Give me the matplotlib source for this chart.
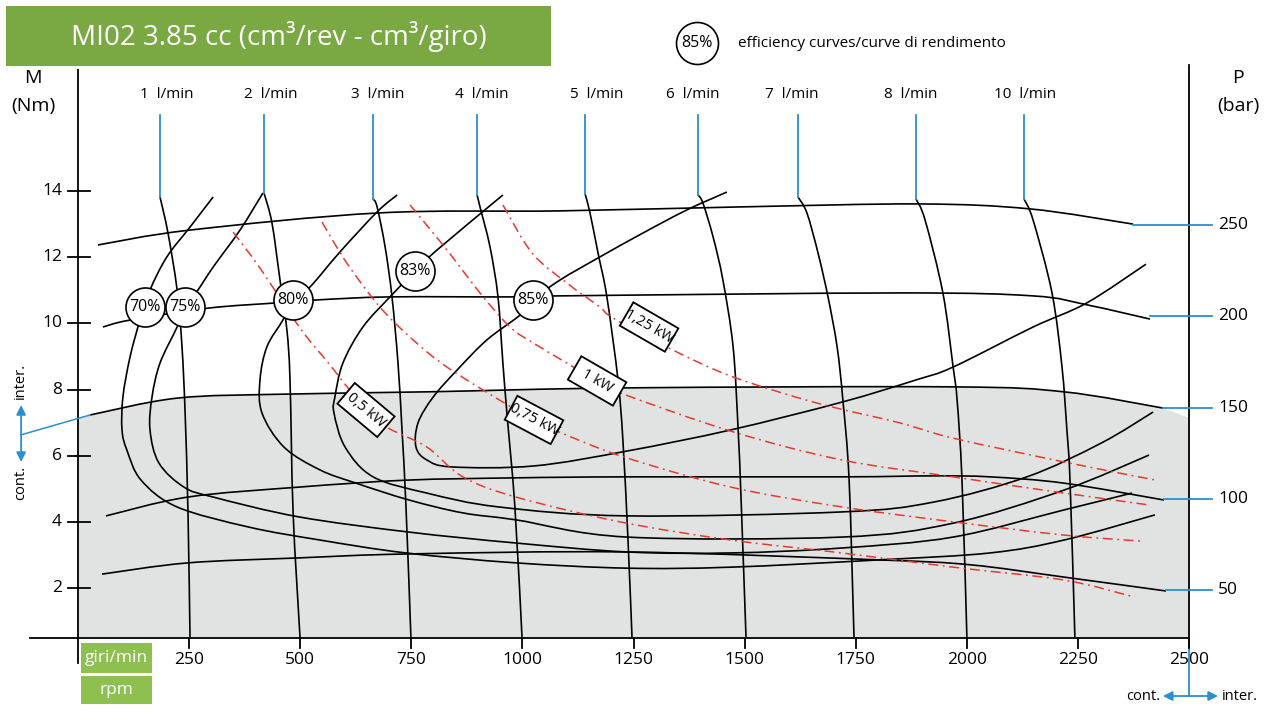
import matplotlib
matplotlib.use('Agg')
import matplotlib.pyplot as plt
import numpy as np
from matplotlib.patches import Rectangle, PathPatch
from matplotlib.path import Path
from matplotlib.transforms import Affine2D

plt.rcParams['font.family'] = ['Open Sans', 'DejaVu Sans']

# ---------------- data (x = rpm, y = torque Nm) ----------------
flow_labels = ['1', '2', '3', '4', '5', '6', '7', '8', '10']
flow_label_rpm = [200, 434, 675, 909, 1168, 1384, 1606, 1874, 2131]
flow_rpm = [
    [184.5, 202.5, 223, 234, 241, 247.5, 252],
    [418.5, 436.5, 454.5, 470, 477, 484, 499.5],
    [664, 673, 691, 706.5, 720, 729, 738, 749],
    [898, 904.5, 927, 945, 956, 965, 983, 999],
    [1141, 1152, 1170, 1190, 1215, 1226, 1237.5, 1246.5],
    [1395, 1406, 1429, 1451, 1474, 1485, 1492, 1503],
    [1620, 1640, 1665, 1687.5, 1708, 1721, 1735, 1746],
    [1885.5, 1906, 1946, 1969, 1978, 1989, 2000],
    [2128.5, 2149, 2191.5, 2214, 2225, 2232, 2243],
]
flow_nm = [
    [13.82, 12.73, 11.01, 9.29, 7.29, 4.27, 0.52],
    [13.94, 13.03, 11.31, 9.80, 8.29, 4.27, 0.52],
    [13.76, 13.52, 12.31, 10.80, 8.80, 6.78, 4.45, 0.52],
    [13.88, 13.52, 12.31, 10.80, 8.80, 7.29, 4.45, 0.52],
    [13.91, 13.34, 12.13, 10.80, 8.29, 6.47, 3.45, 0.52],
    [13.88, 13.64, 12.61, 11.31, 9.29, 6.87, 4.66, 0.52],
    [13.82, 13.34, 12.13, 10.80, 9.29, 7.68, 5.26, 0.52],
    [13.76, 13.12, 10.92, 8.68, 7.68, 5.26, 0.52],
    [13.76, 13.12, 10.92, 8.68, 6.78, 5.26, 0.52],
]

pressure_ticks = [250, 200, 150, 100, 50]
p250_rpm = [45, 252, 679.5, 1084.5, 1489.5, 1894.5, 2142, 2374]
p250_nm = [12.37, 12.82, 13.34, 13.40, 13.52, 13.61, 13.46, 13.00]
p200_rpm = [56, 117, 292.5, 448, 540, 702, 988, 1078, 1849.5, 2149, 2270, 2412]
p200_nm = [9.89, 10.10, 10.46, 10.62, 10.71, 10.80, 10.80, 10.83, 10.92, 10.83, 10.56, 10.13]
p150_rpm = [27, 223, 463.5, 785, 1235, 1969, 2218.5, 2441]
p150_nm = [7.23, 7.74, 7.86, 7.93, 8.05, 8.08, 7.93, 7.44]
p100_rpm = [63, 247.5, 497, 738, 985.5, 1235, 1719, 1926, 2052, 2218.5, 2443.5]
p100_nm = [4.18, 4.75, 5.05, 5.26, 5.33, 5.36, 5.36, 5.39, 5.36, 5.17, 4.66]
p50_rpm = [54, 247.5, 497, 745, 1235, 1802, 2009, 2218.5, 2448]
p50_nm = [2.42, 2.76, 2.91, 3.03, 3.09, 2.85, 2.70, 2.33, 1.91]

eff70_rpm = [304, 252, 200, 162, 139.5, 117, 101, 99, 110, 142, 223, 385, 544.5, 738, 985.5, 1235, 1469, 1802, 2052, 2218.5, 2423]
eff70_nm = [13.82, 12.91, 12.01, 11.01, 10.10, 8.98, 7.77, 6.78, 6.17, 5.26, 4.45, 3.84, 3.45, 3.06, 2.76, 2.60, 2.63, 2.85, 3.06, 3.45, 4.21]
eff75_rpm = [416, 364.5, 304, 270, 241, 223, 184.5, 166.5, 162, 182, 238.5, 304, 497, 745, 985.5, 1235, 1469, 1719, 1969, 2218.5, 2371.5]
eff75_nm = [13.94, 12.82, 11.70, 11.01, 10.49, 9.89, 8.80, 7.77, 6.78, 5.78, 5.05, 4.75, 4.15, 3.69, 3.36, 3.09, 3.06, 3.21, 3.54, 4.36, 4.87]
eff80_rpm = [718, 673, 589.5, 522, 484, 461, 425, 409.5, 414, 463.5, 544.5, 625.5, 745, 866, 985.5, 1235, 1719, 1969, 2218.5, 2410]
eff80_nm = [13.88, 13.37, 12.16, 11.10, 10.71, 10.10, 9.29, 8.29, 7.29, 6.26, 5.57, 5.17, 4.66, 4.27, 4.06, 3.54, 3.54, 3.96, 4.96, 6.02]
eff83_rpm = [956, 808, 758, 702, 641, 596, 578, 576, 601, 664, 785, 947, 1235, 1719, 1926, 2135, 2302, 2419]
eff83_nm = [13.88, 12.22, 11.58, 10.80, 9.89, 8.80, 7.77, 7.29, 6.26, 5.36, 4.87, 4.45, 4.18, 4.30, 4.60, 5.36, 6.38, 7.32]
eff85_rpm = [1460, 1370, 1271, 1174.5, 1084.5, 1024, 994.5, 920, 853, 799, 765, 760.5, 785, 841.5, 1026, 1235, 1469, 1719, 1885.5, 1969, 2149, 2270, 2403]
eff85_nm = [13.97, 13.43, 12.73, 12.01, 11.31, 10.71, 10.25, 9.50, 8.59, 7.77, 6.99, 6.26, 5.87, 5.66, 5.69, 6.14, 6.78, 7.62, 8.29, 8.68, 9.89, 10.62, 11.79]

eff_labels = ['70%', '75%', '80%', '83%', '85%']
eff_label_rpm = [151, 241, 484, 758, 1024]
eff_label_nm = [10.49, 10.49, 10.71, 11.58, 10.71]

kw05_rpm = [349, 409.5, 499.5, 567, 648, 697.5, 785, 866, 985.5, 1219.5, 1469, 1719, 1969, 2218.5, 2376]
kw05_nm = [12.76, 11.67, 9.86, 8.74, 7.38, 6.84, 6.26, 5.36, 4.75, 4.00, 3.45, 3.06, 2.63, 2.24, 1.73]
kw075_rpm = [549, 605, 679.5, 754, 830, 956, 1026, 1082, 1228.5, 1469, 1719, 1969, 2218.5, 2389.5]
kw075_nm = [13.06, 11.82, 10.49, 9.50, 8.68, 7.62, 7.08, 6.72, 5.96, 5.05, 4.45, 4.00, 3.60, 3.42]
kw1_rpm = [747, 830, 904.5, 972, 1024, 1100, 1168, 1219.5, 1474, 1719, 1969, 2218.5, 2410]
kw1_nm = [13.58, 12.22, 10.92, 9.89, 9.41, 8.80, 8.26, 7.90, 6.72, 5.87, 5.36, 4.87, 4.51]
kw125_rpm = [956, 1021.5, 1100, 1174.5, 1204, 1339, 1474, 1663, 1849.5, 1969, 2218.5, 2425.5]
kw125_nm = [13.58, 12.13, 11.22, 10.49, 10.16, 9.19, 8.38, 7.59, 6.99, 6.53, 5.81, 5.26]

kw_labels = ['0,5 kW', '0,75 kW', '1 kW', '1,25 kW']
kw_label_rpm = [648, 1026, 1168, 1285]
kw_label_nm = [7.38, 7.08, 8.26, 9.89]
kw_label_angle = [-40, -28, -30, -30]

x_ticks = [250, 500, 750, 1000, 1250, 1500, 1750, 2000, 2250, 2500]
y_ticks = [2, 4, 6, 8, 10, 12, 14]


def bar_to_nm(p):
    # right-hand pressure scale (P -> M position)
    return 0.05515 * p - 0.8175


# ---------------- styles ----------------
BLUE = '#2a8fd0'
RED = '#e8392f'
GREEN_T = '#7aa843'
GREEN_S = '#8dc04f'
GRAY = '#e1e3e3'
LW = 1.2

W, H = 1287, 720
fig = plt.figure(figsize=(W / 100, H / 100), dpi=100)
ax = fig.add_axes([0, 0, 1, 1])
ax.set_xlim(-175.5, 2720.25)
ax.set_ylim(-1.990, 19.775)
ax.axis('off')

X0, X1 = 0, 2500
Y_AX = 0.49


def cr_path(x, y):
    P = np.column_stack([x, y]).astype(float)
    n = len(P)
    verts = [P[0]]
    codes = [Path.MOVETO]
    for i in range(n - 1):
        p0 = P[i - 1] if i > 0 else P[i]
        p1, p2 = P[i], P[i + 1]
        p3 = P[i + 2] if i + 2 < n else P[i + 1]
        verts += [p1 + (p2 - p0) / 6, p2 - (p3 - p1) / 6, p2]
        codes += [Path.CURVE4] * 3
    return verts, codes


def curve(x, y, color='black', lw=LW, ls='-', z=3):
    v, c = cr_path(x, y)
    ax.add_patch(PathPatch(Path(v, c), fill=False, ec=color, lw=lw, ls=ls,
                           zorder=z, capstyle='butt'))


# gray continuous region
v, c = cr_path(p150_rpm, p150_nm)
fv = [(X0, 7.11), (p150_rpm[0], p150_nm[0])] + v[1:] + [(X1, 7.14), (X1, Y_AX), (X0, Y_AX), (X0, 7.11)]
fc = [Path.MOVETO, Path.LINETO] + c[1:] + [Path.LINETO] * 4
ax.add_patch(PathPatch(Path(fv, fc), fc=GRAY, ec='none', zorder=1))

# axes lines
ax.plot([-108, X1], [Y_AX, Y_AX], color='black', lw=1.3, zorder=4)
ax.plot([X0, X0], [-0.27, 17.66], color='black', lw=1.3, zorder=4)
ax.plot([X1, X1], [Y_AX, 17.8], color='black', lw=1.3, zorder=4)
ax.plot([X1, X1], [-1.265, Y_AX], color=BLUE, lw=1.3, zorder=4)

for t in y_ticks:
    ax.plot([-22.5, 27], [t, t], color='black', lw=1.3, zorder=4)
    ax.text(-36, t, str(t), ha='right', va='center', fontsize=12.5)
for t in x_ticks:
    ax.plot([t, t], [0.19, Y_AX], color='black', lw=1.3, zorder=4)
    ax.text(t, -0.18, str(t), ha='center', va='center', fontsize=12.5)

ax.text(-101, 17.42, 'M', ha='center', va='center', fontsize=14)
ax.text(-101, 16.58, '(Nm)', ha='center', va='center', fontsize=14)
ax.text(2610, 17.42, 'P', ha='center', va='center', fontsize=14)
ax.text(2610, 16.58, '(bar)', ha='center', va='center', fontsize=14)

# pressure curves + blue leaders to the right scale
p_curves = [(p250_rpm, p250_nm), (p200_rpm, p200_nm), (p150_rpm, p150_nm),
            (p100_rpm, p100_nm), (p50_rpm, p50_nm)]
for p, (xr, yn) in zip(pressure_ticks, p_curves):
    curve(xr, yn)
    m = bar_to_nm(p)
    ax.plot([xr[-1], 2551.5], [m, m], color=BLUE, lw=1.3, zorder=4)
    ax.text(2565, m, str(p), ha='left', va='center', fontsize=12.5)

# flow curves
for lab, lx, xr, yn in zip(flow_labels, flow_label_rpm, flow_rpm, flow_nm):
    curve(xr, yn)
    ax.plot([xr[0], xr[0]], [16.30, yn[0]], color=BLUE, lw=1.3, zorder=4)
    ax.text(lx, 16.92, lab + '  l/min', ha='center', va='center', fontsize=11)

# efficiency curves
for xr, yn in [(eff70_rpm, eff70_nm), (eff75_rpm, eff75_nm), (eff80_rpm, eff80_nm),
               (eff83_rpm, eff83_nm), (eff85_rpm, eff85_nm)]:
    curve(xr, yn)
ax.scatter(eff_label_rpm, eff_label_nm, s=790, facecolor='white', edgecolor='black',
           linewidth=1.2, zorder=6)
for lab, x, y in zip(eff_labels, eff_label_rpm, eff_label_nm):
    ax.text(x, y, lab, ha='center', va='center', fontsize=11.5, zorder=7)

# power curves
for xr, yn in [(kw05_rpm, kw05_nm), (kw075_rpm, kw075_nm), (kw1_rpm, kw1_nm), (kw125_rpm, kw125_nm)]:
    curve(xr, yn, color=RED, lw=1.1, ls=(0, (6.5, 3, 1.2, 3)), z=5)
fig.canvas.draw()
for lab, x, y, a in zip(kw_labels, kw_label_rpm, kw_label_nm, kw_label_angle):
    cx, cy = ax.transData.transform((x, y))
    rect = Rectangle((-26, -13.5), 52, 27, facecolor='white', edgecolor='black', lw=1.3,
                     transform=Affine2D().rotate_deg(a).translate(cx, cy), zorder=8)
    ax.add_artist(rect)
    ax.text(x, y, lab, rotation=a, rotation_mode='anchor', ha='center', va='center',
            fontsize=10.5, zorder=9)

# legend for efficiency circles
ax.scatter([1393], [18.48], s=914, facecolor='white', edgecolor='black', linewidth=1.2, zorder=6)
ax.text(1393, 18.48, '85%', ha='center', va='center', fontsize=11.5, zorder=7)
ax.text(1485, 18.45, 'efficiency curves/curve di rendimento', ha='left', va='center', fontsize=11)

# cont./inter. markers (left)
ax.annotate('', xy=(-128, 7.53), xytext=(-128, 5.81),
            arrowprops=dict(arrowstyle='<|-|>', color=BLUE, lw=1.3, mutation_scale=14,
                            shrinkA=0, shrinkB=0))
ax.plot([-128, p150_rpm[0]], [6.63, p150_nm[0]], color=BLUE, lw=1.1, zorder=4)
ax.text(-130, 8.26, 'inter.', rotation=90, ha='center', va='center', fontsize=10.5)
ax.text(-130, 5.17, 'cont.', rotation=90, ha='center', va='center', fontsize=10.5)

# cont./inter. markers (bottom right)
ax.annotate('', xy=(2441, -1.265), xytext=(2565, -1.265),
            arrowprops=dict(arrowstyle='<|-|>', color=BLUE, lw=1.3, mutation_scale=14,
                            shrinkA=0, shrinkB=0))
ax.text(2434, -1.265, 'cont.', ha='right', va='center', fontsize=10.5)
ax.text(2574, -1.265, 'inter.', ha='left', va='center', fontsize=10.5)

# title banner and unit boxes
fig.patches.append(Rectangle((6 / W, 1 - 66 / H), 545 / W, 60 / H, transform=fig.transFigure,
                             facecolor=GREEN_T, edgecolor='none', zorder=0))
fig.text(278.5 / W, 1 - 37 / H, 'MI02 3.85 cc (cm³/rev - cm³/giro)', ha='center', va='center',
         color='white', fontsize=20)
fig.patches.append(Rectangle((81 / W, 1 - 673 / H), 71 / W, 30 / H, transform=fig.transFigure,
                             facecolor=GREEN_S, edgecolor='none', zorder=0))
fig.text(116.5 / W, 1 - 658 / H, 'giri/min', ha='center', va='center', color='white', fontsize=12.5)
fig.patches.append(Rectangle((81 / W, 1 - 704 / H), 71 / W, 28 / H, transform=fig.transFigure,
                             facecolor=GREEN_S, edgecolor='none', zorder=0))
fig.text(116.5 / W, 1 - 690 / H, 'rpm', ha='center', va='center', color='white', fontsize=12.5)

fig.savefig('out.png', dpi=100)
